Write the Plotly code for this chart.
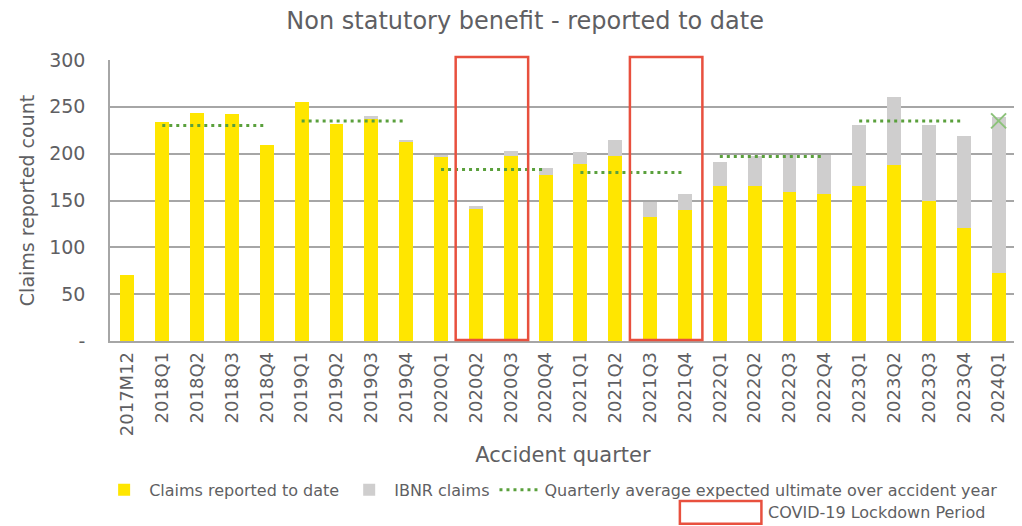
import plotly.graph_objects as go

# ── Data ──
quarters = [
    "2017M12",
    "2018Q1", "2018Q2", "2018Q3", "2018Q4",
    "2019Q1", "2019Q2", "2019Q3", "2019Q4",
    "2020Q1", "2020Q2", "2020Q3", "2020Q4",
    "2021Q1", "2021Q2", "2021Q3", "2021Q4",
    "2022Q1", "2022Q2", "2022Q3", "2022Q4",
    "2023Q1", "2023Q2", "2023Q3", "2023Q4",
    "2024Q1",
]
reported = [71, 234, 243, 242, 209, 255, 232, 238, 213, 196, 141, 198, 177,
            189, 198, 132, 140, 165, 165, 159, 157, 165, 188, 149, 121, 73]
ibnr = [0, 0, 0, 0, 0, 0, 0, 2, 2, 3, 3, 5, 8,
        13, 17, 16, 17, 26, 33, 40, 42, 66, 72, 82, 98, 166]

avg_years = [2018, 2019, 2020, 2021, 2022, 2023]
avg_values = [230, 235, 183, 180, 197, 235]
avg_2024 = 235

covid_periods = [("2020Q2", "2020Q3"), ("2021Q3", "2021Q4")]

# ── Colours ──
YELLOW = "#FFE600"
GREY = "#CFCECE"
GREEN = "#5AA03C"
LIGHT_GREEN = "#8CC27A"
RED = "#E8503E"
TEXT = "#5F5F63"
GRID = "#A6A6A6"
FONT = "DejaVu Sans"

fig = go.Figure()

fig.add_trace(go.Bar(
    x=quarters, y=reported, name="Claims reported to date",
    marker=dict(color=YELLOW, line=dict(width=0)), width=0.4,
))
fig.add_trace(go.Bar(
    x=quarters, y=ibnr, name="IBNR claims",
    marker=dict(color=GREY, line=dict(width=0)), width=0.4,
))

# Quarterly average lines, one segment per accident year
lx, ly = [], []
for yr, v in zip(avg_years, avg_values):
    lx += [f"{yr}Q1", f"{yr}Q4", None]
    ly += [v, v, None]
fig.add_trace(go.Scatter(
    x=lx, y=ly, mode="lines",
    line=dict(color=GREEN, width=3, dash="3px,4px"),
    name="Quarterly average expected ultimate over accident year",
))
fig.add_trace(go.Scatter(
    x=["2024Q1"], y=[avg_2024], mode="markers",
    marker=dict(symbol="x-thin", size=15, line=dict(color=LIGHT_GREEN, width=2)),
    showlegend=False,
))

# ── COVID lockdown boxes (paper coords from category index) ──
n = len(quarters)
for a, b in covid_periods:
    ia, ib = quarters.index(a), quarters.index(b)
    fig.add_shape(
        type="rect", xref="paper", yref="paper",
        x0=(ia - 0.58 + 0.5) / n, x1=(ib + 0.5 + 0.5) / n,
        y0=0.004, y1=1.011,
        line=dict(color=RED, width=2.5), fillcolor="rgba(0,0,0,0)",
    )

# legend entry for COVID boxes
fig.add_shape(
    type="rect", xref="paper", yref="paper",
    x0=0.629, x1=0.719, y0=-0.65, y1=-0.569,
    line=dict(color=RED, width=2.5),
)
fig.add_annotation(
    text="COVID-19 Lockdown Period", xref="paper", yref="paper",
    x=0.724, y=-0.61, xanchor="left", yanchor="middle", showarrow=False,
    font=dict(family=FONT, size=16, color=TEXT),
)

# page body has an 8px margin, so the figure is 8px smaller and offsets trimmed
fig.update_layout(
    width=1014, height=518,
    barmode="stack",
    plot_bgcolor="white", paper_bgcolor="white",
    font=dict(family=FONT, color=TEXT),
    margin=dict(l=102, r=6, t=52, b=185, autoexpand=False),
    title=dict(
        text="Non statutory benefit - reported to date",
        x=0.51, xanchor="center", y=0.976, yanchor="middle",
        font=dict(family=FONT, size=24, color=TEXT),
    ),
    legend=dict(
        orientation="h", x=-0.012, xanchor="left", y=-0.53, yanchor="middle",
        font=dict(family=FONT, size=16, color=TEXT),
        bgcolor="rgba(0,0,0,0)",
        itemwidth=40, tracegroupgap=0, traceorder="normal",
    ),
    showlegend=True,
)

fig.update_xaxes(
    type="category", tickangle=-90, range=[-0.5, n - 0.5],
    tickfont=dict(family=FONT, size=18, color=TEXT),
    showline=True, linecolor=GRID, linewidth=1.5,
    showgrid=False, ticks="", ticklabelstandoff=2, automargin=False,
    title=dict(text="Accident quarter", font=dict(family=FONT, size=21, color=TEXT),
               standoff=12),
)
fig.update_yaxes(
    range=[0, 300], tickvals=[0, 50, 100, 150, 200, 250, 300],
    ticktext=["-", "50", "100", "150", "200", "250", "300"],
    tickfont=dict(family=FONT, size=19, color=TEXT),
    showline=True, linecolor=GRID, linewidth=1.5,
    showgrid=True, gridcolor=GRID, gridwidth=1.5,
    zeroline=False, ticks="", ticklabelstandoff=19, automargin=False,
    title=dict(text="Claims reported count", font=dict(family=FONT, size=19, color=TEXT),
               standoff=10),
)

fig.write_html("out.html")
